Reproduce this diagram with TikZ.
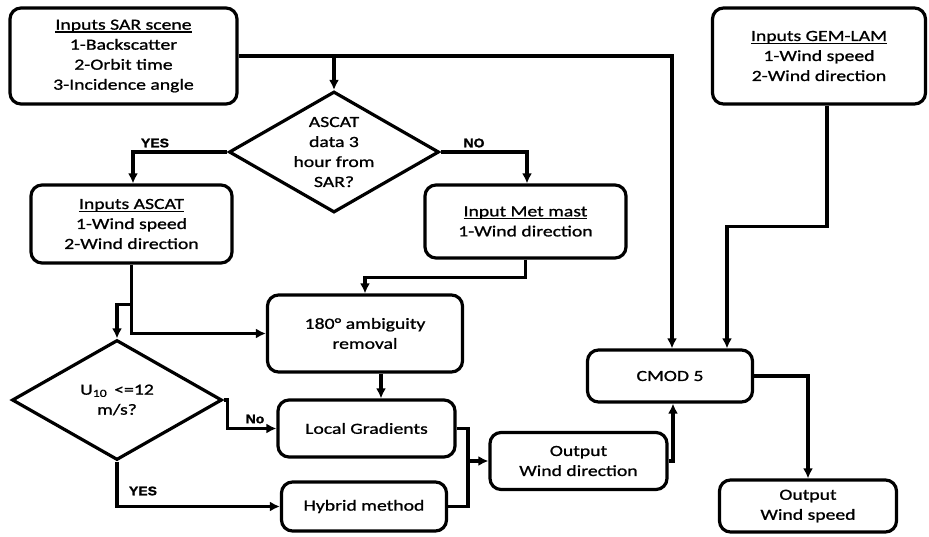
\documentclass[tikz,border=0pt]{standalone}
\usepackage{fontspec}
\setmainfont{Carlito}[FakeStretch=1.27, FakeBold=1]
\newfontfamily\labelfont{Liberation Sans}[FakeStretch=1.12, BoldFeatures={FakeBold=1.6}]
\usepackage{tikz}
\usetikzlibrary{shapes.geometric,arrows.meta}

% Unterstreichung dicht unter der Grundlinie
\newcommand\unterlinie[1]{\leavevmode\setbox0=\hbox{#1}\rlap{\rule[-3pt]{\wd0}{1.2pt}}\box0}

\begin{document}
\begin{tikzpicture}[x=1pt, y=-1pt,
        line width=3.2pt,
        font=\fontsize{15.5}{20}\selectfont,
        kasten/.style={draw, rounded corners=11pt, align=center, inner sep=0pt},
        frage/.style={draw, diamond, inner sep=0pt},
        marke/.style={font=\labelfont\bfseries\fontsize{12.5}{12.5}\selectfont},
        >={Latex[length=10pt,width=10pt]} % Voreinstellung fuer Pfeilspitzen
        ]
    \useasboundingbox (0,0) rectangle (929,536);

    % Eingaben
    \node[kasten, minimum width=227pt, minimum height=96pt] (sar) at (123.5,56)
        {\unterlinie{Inputs SAR scene}\\1-Backscatter\\2-Orbit time\\3-Incidence angle};
    \node[kasten, minimum width=213pt, minimum height=96pt] (gem) at (819,56)
        {\unterlinie{Inputs GEM-LAM}\\1-Wind speed\\2-Wind direction};
    \node[kasten, minimum width=201pt, minimum height=78pt] (ascat) at (131.5,224)
        {\unterlinie{Inputs ASCAT}\\1-Wind speed\\2-Wind direction};
    \node[kasten, minimum width=201pt, minimum height=73pt] (mast) at (525.5,221.5)
        {\unterlinie{Input Met mast}\\1-Wind direction};

    % Entscheidungen
    \node[frage, minimum width=210pt, minimum height=121pt] (q1) at (334,152) {};
    \node[align=center] (q1text) at (q1) {ASCAT\\data 3\\hour from\\SAR?};
    \node[frage, minimum width=210pt, minimum height=120pt] (q2) at (117,400) {};
    \node[align=center] (q2text) at (q2) {U\textsubscript{10}\, <=12\\m/s?};

    % Verarbeitung
    \node[kasten, minimum width=195pt, minimum height=77pt] (ambig) at (365,333.5)
        {180° ambiguity\\removal};
    \node[kasten, minimum width=177pt, minimum height=57pt] (lokal) at (366.5,428.5)
        {Local Gradients};
    \node[kasten, minimum width=165pt, minimum height=49pt] (hybrid) at (364,506.5)
        {Hybrid method};
    \node[kasten, minimum width=165pt, minimum height=52pt] (cmod) at (670,376)
        {CMOD 5};

    % Ausgaben
    \node[kasten, minimum width=177pt, minimum height=57pt] (ausRicht) at (578.5,461)
        {Output\\Wind direction};
    \node[kasten, minimum width=177pt, minimum height=52pt] (ausGeschw) at (808,506)
        {Output\\Wind speed};

    % Abzweige
    \coordinate (abzwSar) at (sar.east -| q1.north);
    \coordinate (abzwAscat) at ([yshift=-40pt]ascat.south);
    \coordinate (sammel) at (468,461);

    % Verbindungen
    \draw[->] (sar.east) -| ([xshift=2pt]cmod.north);
    \draw[->] (abzwSar) -- (q1.north);
    \draw[->] (q1.west) -| ([xshift=1.5pt]ascat.north);
    \draw[->] (q1.east) -| ([xshift=1.5pt]mast.north);
    \draw[->] (ascat.south) |- (ambig.west);
    \draw[->] (abzwAscat) -| (q2.north);
    \draw[->] (mast.south) -- ++(0,18) -| (ambig.north);
    \draw[->] ([xshift=16pt]ambig.south) -- ([xshift=16pt]ambig.south |- lokal.north);
    \draw[->] (q2.east) -- ++(4,0) |- (lokal.west);
    \draw[->] (q2.south) |- (hybrid.west);
    \draw (lokal.east) -| (sammel) |- (hybrid.east);
    \draw[->] (sammel) -- (ausRicht.west);
    \draw[->] (ausRicht.east) -| ([xshift=3pt]cmod.south);
    \draw[->] ([xshift=8pt]gem.south) -- ++(0,121) -| ([xshift=57pt]cmod.north);
    \draw[->] (cmod.east) -| (ausGeschw.north);

    % Beschriftung der Zweige
    \node[marke] (ja1) at (155,143) {YES};
    \node[marke] (nein1) at (474,143) {NO};
    \node[marke] (nein2) at (255,419) {No};
    \node[marke] (ja2) at (143,491) {YES};
\end{tikzpicture}
\end{document}
